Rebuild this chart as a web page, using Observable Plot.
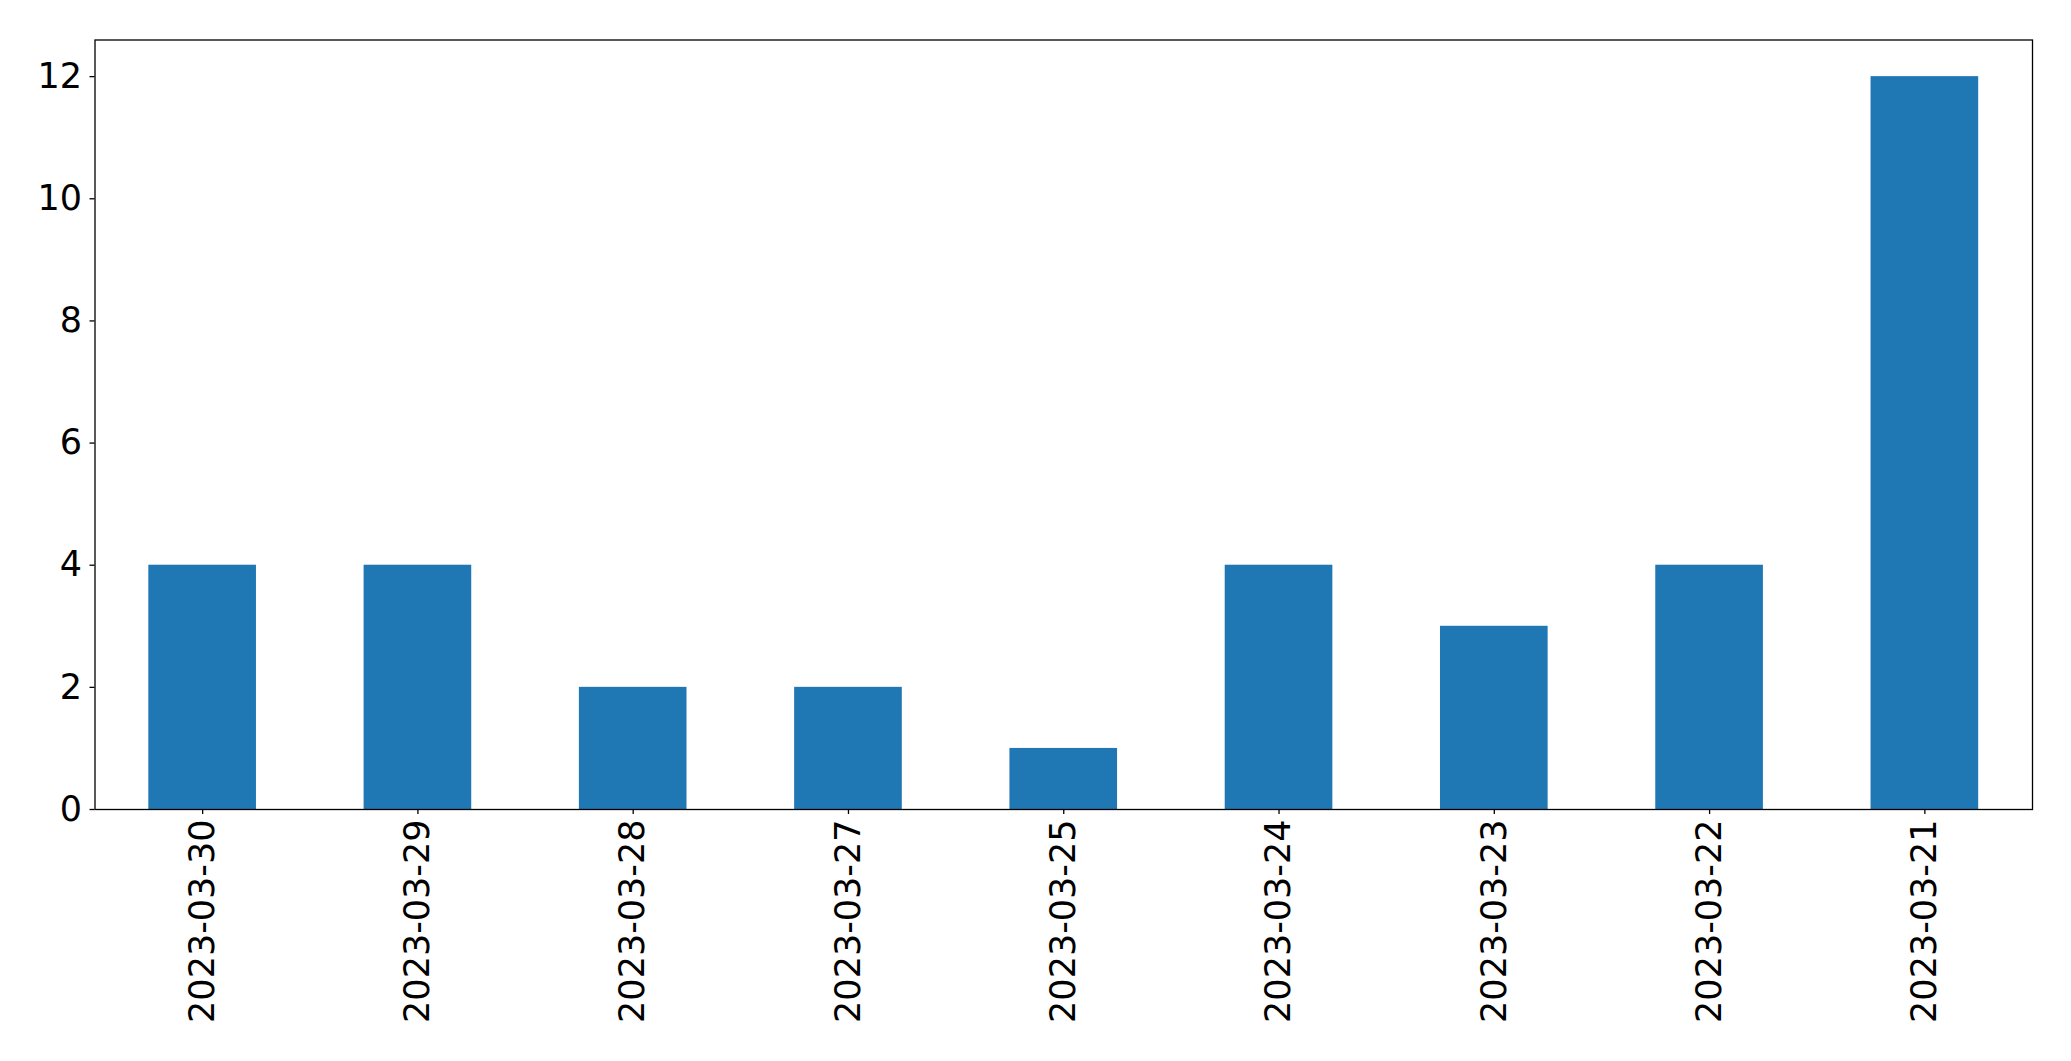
<!DOCTYPE html>
<html>
<head>
<meta charset="utf-8">
<script src="https://cdn.jsdelivr.net/npm/d3@7"></script>
<script src="https://cdn.jsdelivr.net/npm/@observablehq/plot@0.6"></script>
<style>
  html, body { margin: 0; padding: 0; background: #fff; }
  svg { display: block; }
</style>
</head>
<body>
<div id="chart"></div>
<script>
const dates = ["2023-03-30", "2023-03-29", "2023-03-28", "2023-03-27", "2023-03-25", "2023-03-24", "2023-03-23", "2023-03-22", "2023-03-21"];
const counts = [4, 4, 2, 2, 1, 4, 3, 4, 12];
const yTicks = [0, 2, 4, 6, 8, 10, 12];

const data = dates.map((d, i) => ({date: d, count: counts[i]}));

const chart = Plot.plot({
  width: 2071,
  height: 1061,
  marginLeft: 94.5,
  marginRight: 39,
  marginTop: 39.5,
  marginBottom: 252,
  style: {fontFamily: "DejaVu Sans", fontSize: "35px", color: "#000", background: "#fff"},
  x: {domain: dates, paddingInner: 0.5, paddingOuter: 0.25, align: 0.5, round: false},
  y: {domain: [0, 12.6]},
  marks: [
    Plot.barY(data, {x: "date", y: "count", fill: "#1f77b4"}),
    Plot.frame({stroke: "#000", strokeWidth: 1.3}),
    Plot.axisY({ticks: yTicks, tickSize: 5, tickPadding: 8, fontSize: 35, label: null, stroke: "#000", strokeWidth: 1.3}),
    Plot.axisX({tickSize: 5, tickPadding: 5, tickRotate: -90, fontSize: 35, label: null, stroke: "#000", strokeWidth: 1.3})
  ]
});
document.getElementById("chart").appendChild(chart);
</script>
</body>
</html>
